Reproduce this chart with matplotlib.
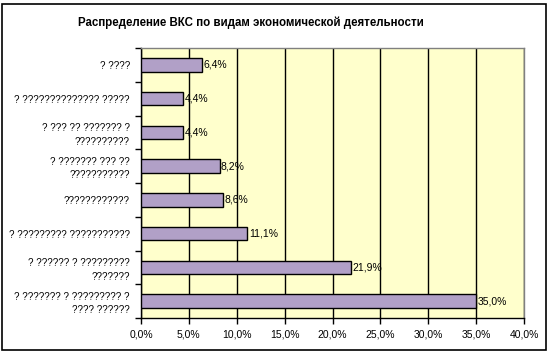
import matplotlib.pyplot as plt
import numpy as np
from matplotlib.ticker import FuncFormatter, FixedLocator

plt.rcParams['font.family'] = ['Liberation Sans', 'DejaVu Sans']

title = "Распределение ВКС по видам экономической деятельности"

# top to bottom as in the picture
categories = [
    "? ????",
    "? ?????????????? ?????",
    "? ??? ?? ??????? ?\n??????????",
    "? ??????? ??? ??\n???????????",
    "????????????",
    "? ????????? ???????????",
    "? ?????? ? ?????????\n???????",
    "? ??????? ? ????????? ?\n???? ??????",
]
values = [6.4, 4.4, 4.4, 8.2, 8.6, 11.1, 21.9, 35.0]
xticks = [0, 5, 10, 15, 20, 25, 30, 35, 40]

fig = plt.figure(figsize=(5.51, 3.53), dpi=100)
W, H = 551, 353
ax = fig.add_axes([141 / W, 1 - 318 / H, (524 - 141) / W, (318 - 48) / H])

# outer frame
fig.patches.append(plt.Rectangle((2 / W, 3 / H), (546 - 2) / W, (350 - 4) / H,
                                 transform=fig.transFigure, fill=False,
                                 edgecolor='black', linewidth=1.2))

cats = categories[::-1]
vals = values[::-1]
y = np.arange(len(cats))

ax.set_facecolor('#FFFFCC')
ax.barh(y, vals, height=0.4, color='#B1A0C7', edgecolor='black', linewidth=1, zorder=3)
for yi, v in zip(y, vals):
    ax.text(v + 0.15, yi, f"{v:.1f}%".replace('.', ','), va='center', ha='left',
            fontsize=7.5, zorder=4)

ax.set_xlim(0, 40)
ax.set_ylim(-0.5, len(cats) - 0.5)
ax.xaxis.set_major_locator(FixedLocator(xticks))
ax.xaxis.set_major_formatter(FuncFormatter(lambda x, p: f"{x:.1f}%".replace('.', ',')))
ax.grid(axis='x', color='black', linewidth=1, zorder=1)

ax.set_yticks(y)
ax.set_yticklabels(cats, fontsize=7, linespacing=1.4)
ax.set_yticks(np.arange(len(cats) + 1) - 0.5, minor=True)
ax.tick_params(axis='y', which='major', length=0, pad=8)
ax.tick_params(axis='y', which='minor', length=4, width=1, direction='out')
ax.tick_params(axis='x', length=4, width=1, labelsize=7.5, pad=4)

for s in ['top', 'right']:
    ax.spines[s].set_color('#808080')
    ax.spines[s].set_linewidth(1)
for s in ['left', 'bottom']:
    ax.spines[s].set_color('black')
    ax.spines[s].set_linewidth(1)

fig.text(251 / W, 1 - 23 / H, title, ha='center', va='center',
         fontsize=8.3, fontweight='bold')

fig.savefig('out.png', dpi=100)
